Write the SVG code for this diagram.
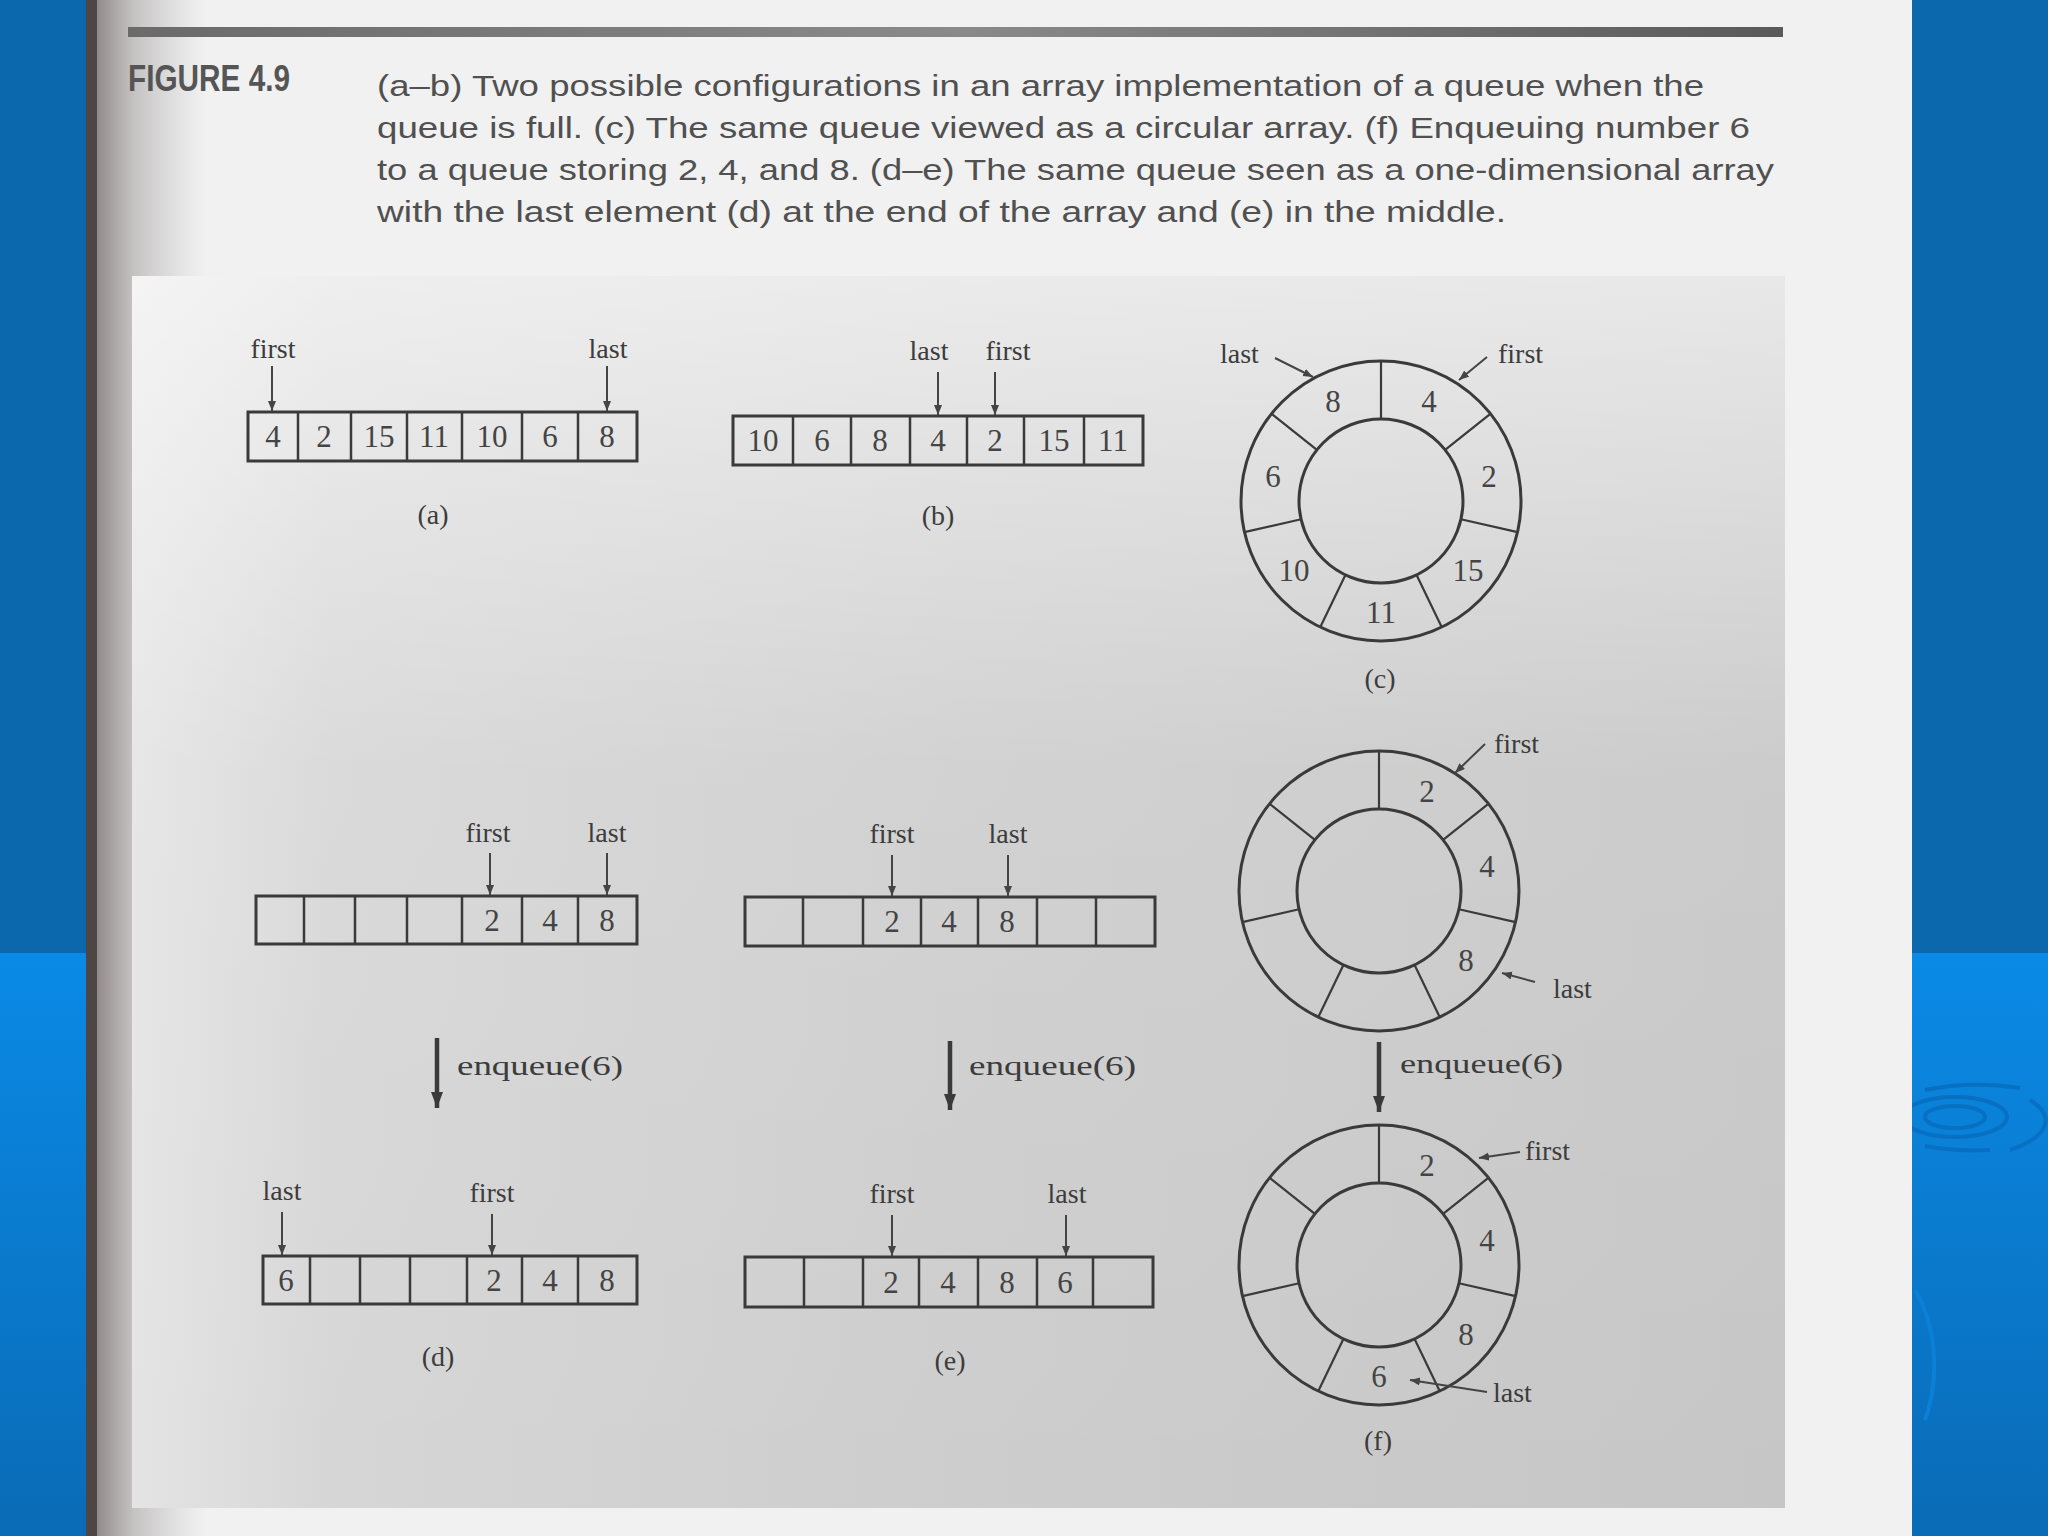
<svg xmlns="http://www.w3.org/2000/svg" width="2048" height="1536" viewBox="0 0 2048 1536">
<defs>
<style>
.cap{font-family:"Liberation Sans","Open Sans",sans-serif;font-size:29px;fill:#505050}
.fig{font-family:"Liberation Sans","Open Sans",sans-serif;font-size:37px;font-weight:bold;fill:#555}
.lbl{font-family:"Liberation Serif","DejaVu Serif",serif;font-size:28px;fill:#3c3c3c}
.num{font-family:"Liberation Serif","DejaVu Serif",serif;font-size:31px;fill:#444;text-anchor:middle}
.mid{text-anchor:middle}
.box{fill:none;stroke:#3a3a3a;stroke-width:3}
.div{stroke:#3a3a3a;stroke-width:2.5}
.ptr{stroke:#444;stroke-width:2;fill:none}
.enq{stroke:#3a3a3a;stroke-width:4.5;fill:none}
.ring{fill:none;stroke:#3a3a3a;stroke-width:3}
.spoke{stroke:#3a3a3a;stroke-width:2.2}
</style>
<linearGradient id="lowBlue" x1="0" y1="0" x2="0" y2="1">
<stop offset="0" stop-color="#0a8ae6"/>
<stop offset="1" stop-color="#0a6bb6"/>
</linearGradient>
<linearGradient id="panelG" x1="0" y1="0" x2="1" y2="0">
<stop offset="0" stop-color="#e4e4e4"/>
<stop offset="0.12" stop-color="#d6d6d6"/>
<stop offset="0.5" stop-color="#cdcdcd"/>
<stop offset="1" stop-color="#c6c6c6"/>
</linearGradient>
<linearGradient id="shadeG" x1="0" y1="0" x2="1" y2="0">
<stop offset="0" stop-color="#7d7575" stop-opacity="0.85"/>
<stop offset="0.35" stop-color="#9a9494" stop-opacity="0.5"/>
<stop offset="1" stop-color="#b0b0b0" stop-opacity="0"/>
</linearGradient>
<linearGradient id="shadeV" x1="0" y1="0" x2="0" y2="1">
<stop offset="0" stop-color="#ffffff" stop-opacity="0.6"/>
<stop offset="0.4" stop-color="#ffffff" stop-opacity="0.1"/>
<stop offset="1" stop-color="#ffffff" stop-opacity="0"/>
</linearGradient>
<linearGradient id="ruleG" x1="0" y1="0" x2="1" y2="0">
<stop offset="0" stop-color="#6a6a6a"/>
<stop offset="0.5" stop-color="#8a8a8a"/>
<stop offset="1" stop-color="#5a5a5a"/>
</linearGradient>
<marker id="ah" markerUnits="userSpaceOnUse" markerWidth="12" markerHeight="10" refX="10" refY="4" orient="auto">
<path d="M0,0 L10,4 L0,8 z" fill="#444"/>
</marker>
<marker id="ahBig" markerUnits="userSpaceOnUse" markerWidth="18" markerHeight="14" refX="16" refY="6" orient="auto">
<path d="M0,0 L16,6 L0,12 z" fill="#3a3a3a"/>
</marker>
<g id="ringShape">
<circle r="140" class="ring"/>
<circle r="82" class="ring"/>
<line x1="0" y1="-82" x2="0" y2="-140" class="spoke"/>
<line x1="64.1" y1="-51.1" x2="108.7" y2="-86.7" class="spoke"/>
<line x1="79.9" y1="18.2" x2="135.5" y2="30.9" class="spoke"/>
<line x1="35.6" y1="73.9" x2="60.3" y2="125.2" class="spoke"/>
<line x1="-35.6" y1="73.9" x2="-60.3" y2="125.2" class="spoke"/>
<line x1="-79.9" y1="18.2" x2="-135.5" y2="30.9" class="spoke"/>
<line x1="-64.1" y1="-51.1" x2="-108.7" y2="-86.7" class="spoke"/>
</g>
</defs>

<!-- background -->
<rect x="0" y="0" width="2048" height="1536" fill="#0b68ad"/>
<rect x="0" y="953" width="2048" height="583" fill="url(#lowBlue)"/>
<g fill="none" stroke="#0870c2" stroke-width="4">
<ellipse cx="1955" cy="1117" rx="30" ry="11"/>
<ellipse cx="1955" cy="1117" rx="52" ry="20"/>
<path d="M1925,1090 A110,40 0 0 1 2020,1088"/>
<path d="M2030,1100 A110,40 0 0 1 2010,1150"/>
<path d="M1925,1146 A110,40 0 0 0 1990,1150"/>
<path d="M1915,1290 A70,110 0 0 1 1925,1420" stroke="#0a80d6"/>
</g>

<!-- page -->
<rect x="86" y="0" width="1826" height="1536" fill="#f1f1f1"/>
<rect x="96" y="0" width="110" height="1536" fill="url(#shadeG)"/>
<rect x="86" y="0" width="11" height="1536" fill="#4e4545"/>
<rect x="128" y="27" width="1655" height="10" fill="url(#ruleG)"/>

<!-- caption -->
<g id="caption">
<text class="fig" x="128" y="91" textLength="162" lengthAdjust="spacingAndGlyphs">FIGURE 4.9</text>
<text class="cap" x="377" y="96" textLength="1327" lengthAdjust="spacingAndGlyphs">(a–b) Two possible configurations in an array implementation of a queue when the</text>
<text class="cap" x="377" y="138" textLength="1373" lengthAdjust="spacingAndGlyphs">queue is full. (c) The same queue viewed as a circular array. (f) Enqueuing number 6</text>
<text class="cap" x="377" y="180" textLength="1397" lengthAdjust="spacingAndGlyphs">to a queue storing 2, 4, and 8. (d–e) The same queue seen as a one-dimensional array</text>
<text class="cap" x="377" y="222" textLength="1129" lengthAdjust="spacingAndGlyphs">with the last element (d) at the end of the array and (e) in the middle.</text>
</g>

<!-- figure panel -->
<rect x="132" y="276" width="1653" height="1232" fill="url(#panelG)"/>
<rect x="132" y="276" width="1653" height="1232" fill="url(#shadeV)"/>

<!-- (a) -->
<g id="array-a">
<rect x="248" y="412" width="389" height="49" class="box"/>
<path class="div" d="M298,412V461M351,412V461M407,412V461M462,412V461M522,412V461M578,412V461"/>
<text class="num" x="273" y="447">4</text>
<text class="num" x="324" y="447">2</text>
<text class="num" x="379" y="447">15</text>
<text class="num" x="434" y="447">11</text>
<text class="num" x="492" y="447">10</text>
<text class="num" x="550" y="447">6</text>
<text class="num" x="607" y="447">8</text>
<text class="lbl mid" x="273" y="358">first</text>
<text class="lbl mid" x="608" y="358">last</text>
<text class="lbl mid" x="433" y="524">(a)</text>
</g>

<!-- (b) -->
<g id="array-b">
<rect x="733" y="416" width="410" height="49" class="box"/>
<path class="div" d="M793,416V465M851,416V465M910,416V465M967,416V465M1024,416V465M1084,416V465"/>
<text class="num" x="763" y="451">10</text>
<text class="num" x="822" y="451">6</text>
<text class="num" x="880" y="451">8</text>
<text class="num" x="938" y="451">4</text>
<text class="num" x="995" y="451">2</text>
<text class="num" x="1054" y="451">15</text>
<text class="num" x="1113" y="451">11</text>
<text class="lbl mid" x="929" y="360">last</text>
<text class="lbl mid" x="1008" y="360">first</text>
<text class="lbl mid" x="938" y="525">(b)</text>
</g>

<!-- (c) -->
<g id="circle-c">
<use href="#ringShape" transform="translate(1381,501)"/>
<text class="num" x="1429" y="412">4</text>
<text class="num" x="1489" y="487">2</text>
<text class="num" x="1468" y="581">15</text>
<text class="num" x="1381" y="623">11</text>
<text class="num" x="1294" y="581">10</text>
<text class="num" x="1273" y="487">6</text>
<text class="num" x="1333" y="412">8</text>
<text class="lbl" x="1220" y="363">last</text>
<text class="lbl" x="1498" y="363">first</text>
<text class="lbl mid" x="1380" y="688">(c)</text>
</g>

<!-- (d) top -->
<g id="array-d-before">
<rect x="256" y="896" width="381" height="48" class="box"/>
<path class="div" d="M304,896V944M355,896V944M407,896V944M462,896V944M522,896V944M578,896V944"/>
<text class="num" x="492" y="931">2</text>
<text class="num" x="550" y="931">4</text>
<text class="num" x="607" y="931">8</text>
<text class="lbl mid" x="488" y="842">first</text>
<text class="lbl mid" x="607" y="842">last</text>
</g>

<!-- (e) top -->
<g id="array-e-before">
<rect x="745" y="897" width="410" height="49" class="box"/>
<path class="div" d="M803,897V946M863,897V946M921,897V946M978,897V946M1037,897V946M1096,897V946"/>
<text class="num" x="892" y="932">2</text>
<text class="num" x="949" y="932">4</text>
<text class="num" x="1007" y="932">8</text>
<text class="lbl mid" x="892" y="843">first</text>
<text class="lbl mid" x="1008" y="843">last</text>
</g>

<!-- (f) top -->
<g id="circle-f-before">
<use href="#ringShape" transform="translate(1379,891)"/>
<text class="num" x="1427" y="802">2</text>
<text class="num" x="1487" y="877">4</text>
<text class="num" x="1466" y="971">8</text>
<text class="lbl" x="1494" y="753">first</text>
<text class="lbl" x="1553" y="998">last</text>
</g>

<!-- enqueue labels -->
<g id="enqueue-labels">
<text class="lbl" x="457" y="1075" textLength="166" lengthAdjust="spacingAndGlyphs">enqueue(6)</text>
<text class="lbl" x="969" y="1075" textLength="167" lengthAdjust="spacingAndGlyphs">enqueue(6)</text>
<text class="lbl" x="1400" y="1073" textLength="163" lengthAdjust="spacingAndGlyphs">enqueue(6)</text>
</g>

<!-- (d) bottom -->
<g id="array-d-after">
<rect x="263" y="1256" width="374" height="48" class="box"/>
<path class="div" d="M310,1256V1304M360,1256V1304M410,1256V1304M467,1256V1304M522,1256V1304M578,1256V1304"/>
<text class="num" x="286" y="1291">6</text>
<text class="num" x="494" y="1291">2</text>
<text class="num" x="550" y="1291">4</text>
<text class="num" x="607" y="1291">8</text>
<text class="lbl mid" x="282" y="1200">last</text>
<text class="lbl mid" x="492" y="1202">first</text>
<text class="lbl mid" x="438" y="1366">(d)</text>
</g>

<!-- (e) bottom -->
<g id="array-e-after">
<rect x="745" y="1257" width="408" height="50" class="box"/>
<path class="div" d="M804,1257V1307M863,1257V1307M919,1257V1307M978,1257V1307M1037,1257V1307M1093,1257V1307"/>
<text class="num" x="891" y="1293">2</text>
<text class="num" x="948" y="1293">4</text>
<text class="num" x="1007" y="1293">8</text>
<text class="num" x="1065" y="1293">6</text>
<text class="lbl mid" x="892" y="1203">first</text>
<text class="lbl mid" x="1067" y="1203">last</text>
<text class="lbl mid" x="950" y="1370">(e)</text>
</g>

<!-- (f) bottom -->
<g id="circle-f-after">
<use href="#ringShape" transform="translate(1379,1265)"/>
<text class="num" x="1427" y="1176">2</text>
<text class="num" x="1487" y="1251">4</text>
<text class="num" x="1466" y="1345">8</text>
<text class="num" x="1379" y="1387">6</text>
<text class="lbl" x="1525" y="1160">first</text>
<text class="lbl" x="1493" y="1402">last</text>
<text class="lbl mid" x="1378" y="1450">(f)</text>
</g>

<!-- connectors -->
<g id="connectors">
<line class="ptr" x1="272" y1="366" x2="272" y2="411" marker-end="url(#ah)"/>
<line class="ptr" x1="607" y1="366" x2="607" y2="411" marker-end="url(#ah)"/>
<line class="ptr" x1="938" y1="372" x2="938" y2="415" marker-end="url(#ah)"/>
<line class="ptr" x1="995" y1="372" x2="995" y2="415" marker-end="url(#ah)"/>
<line class="ptr" x1="1275" y1="358" x2="1313" y2="377" marker-end="url(#ah)"/>
<line class="ptr" x1="1487" y1="357" x2="1459" y2="380" marker-end="url(#ah)"/>
<line class="ptr" x1="490" y1="853" x2="490" y2="895" marker-end="url(#ah)"/>
<line class="ptr" x1="607" y1="853" x2="607" y2="895" marker-end="url(#ah)"/>
<line class="ptr" x1="892" y1="855" x2="892" y2="896" marker-end="url(#ah)"/>
<line class="ptr" x1="1008" y1="855" x2="1008" y2="896" marker-end="url(#ah)"/>
<line class="ptr" x1="1485" y1="744" x2="1455" y2="773" marker-end="url(#ah)"/>
<line class="ptr" x1="1535" y1="982" x2="1502" y2="973" marker-end="url(#ah)"/>
<line class="enq" x1="437" y1="1038" x2="437" y2="1108" marker-end="url(#ahBig)"/>
<line class="enq" x1="950" y1="1041" x2="950" y2="1110" marker-end="url(#ahBig)"/>
<line class="enq" x1="1379" y1="1042" x2="1379" y2="1112" marker-end="url(#ahBig)"/>
<line class="ptr" x1="282" y1="1212" x2="282" y2="1255" marker-end="url(#ah)"/>
<line class="ptr" x1="492" y1="1214" x2="492" y2="1255" marker-end="url(#ah)"/>
<line class="ptr" x1="892" y1="1215" x2="892" y2="1256" marker-end="url(#ah)"/>
<line class="ptr" x1="1066" y1="1215" x2="1066" y2="1256" marker-end="url(#ah)"/>
<line class="ptr" x1="1520" y1="1152" x2="1479" y2="1158" marker-end="url(#ah)"/>
<line class="ptr" x1="1487" y1="1392" x2="1410" y2="1380" marker-end="url(#ah)"/>
</g>
</svg>
